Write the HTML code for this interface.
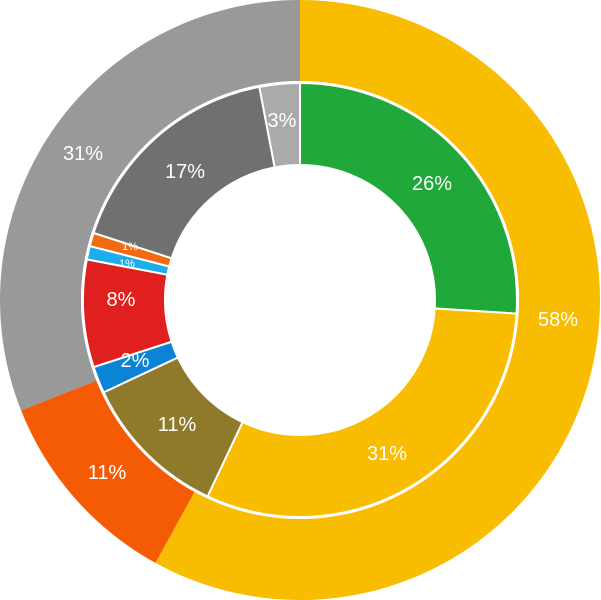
<!DOCTYPE html>
<html><head><meta charset="utf-8"><style>
html,body{margin:0;padding:0;background:#fff;}
svg{display:block;}
text{font-family:"Liberation Sans","DejaVu Sans",sans-serif;fill:#fff;text-anchor:middle;dominant-baseline:central;}
</style></head><body>
<svg id="s" width="601" height="600" viewBox="0 0 601 600">
<g id="g"></g>
<text x="558" y="320" font-size="20">58%</text>
<text x="107" y="473" font-size="20">11%</text>
<text x="83" y="154" font-size="20">31%</text>
<text x="432" y="184" font-size="20">26%</text>
<text x="387" y="454" font-size="20">31%</text>
<text x="177" y="425" font-size="20">11%</text>
<text x="135" y="361" font-size="20">2%</text>
<text x="121" y="300" font-size="20">8%</text>
<text x="130" y="247" font-size="11">1%</text>
<text x="127" y="264" font-size="11">1%</text>
<text x="185" y="172" font-size="20">17%</text>
<text x="282" y="121" font-size="20">3%</text>
</svg>
<script>
var cx=300,cy=300,g=document.getElementById('g'),ns='http://www.w3.org/2000/svg';
function pt(r,a){a=a*Math.PI/180;return [cx+r*Math.sin(a),cy-r*Math.cos(a)];}
function ring(data,r0,r1,stroke){var a=0;data.forEach(function(d){var b=a+d[0]*3.6;var p1=pt(r1,a),p2=pt(r1,b),p3=pt(r0,b),p4=pt(r0,a);var l=(b-a)>180?1:0;
var p=document.createElementNS(ns,'path');p.setAttribute('d','M'+p1+' A'+r1+','+r1+' 0 '+l+' 1 '+p2+' L'+p3+' A'+r0+','+r0+' 0 '+l+' 0 '+p4+'Z');
p.setAttribute('fill',d[1]);if(stroke){p.setAttribute('stroke','#fff');p.setAttribute('stroke-width','2');}g.appendChild(p);a=b;});}
ring([[58,'#F8BC00'],[11,'#F55A05'],[31,'#999999']],219,300,false);
var c=document.createElementNS(ns,'circle');c.setAttribute('cx',cx);c.setAttribute('cy',cy);c.setAttribute('r',219);c.setAttribute('fill','#fff');g.appendChild(c);
ring([[26,'#21A83A'],[31,'#F8BC00'],[11,'#8F7A2B'],[2,'#0B84D6'],[8,'#E0201F'],[1,'#1BADEC'],[1,'#F26B12'],[17,'#707070'],[3,'#AAAAAA']],135,217,true);
</script>
</body></html>
